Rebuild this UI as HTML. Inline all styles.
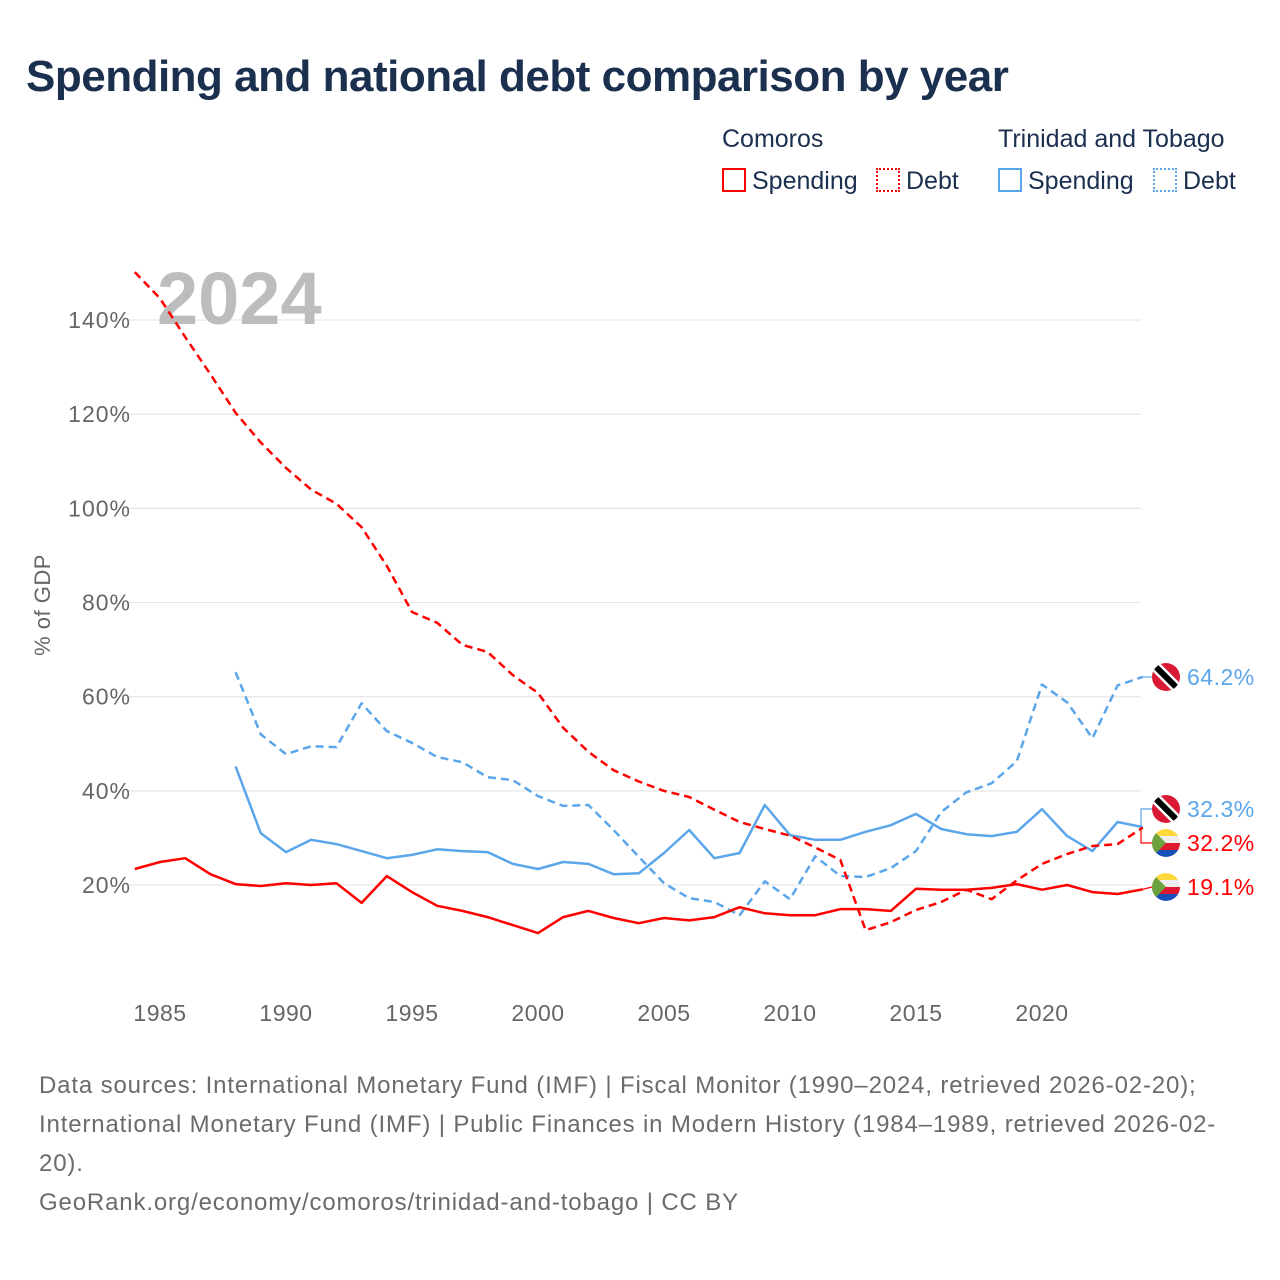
<!DOCTYPE html>
<html><head><meta charset="utf-8">
<style>
body{margin:0;background:#fff;font-family:"Liberation Sans",sans-serif;}
#wrap{position:relative;width:1280px;height:1280px;overflow:hidden;}
.t{position:absolute;white-space:nowrap;}
</style></head>
<body>
<div id="wrap">
<div class="t" style="left:26px;top:52px;font-size:44px;font-weight:bold;color:#1b2f4f;letter-spacing:-0.5px">Spending and national debt comparison by year</div>

<div class="t" style="left:722px;top:125px;font-size:25px;color:#1b2f4f">Comoros</div>
<div class="t" style="left:998px;top:125px;font-size:25px;color:#1b2f4f">Trinidad and Tobago</div>
<div class="t" style="left:722px;top:167px;font-size:25px;color:#1b2f4f"><span style="display:inline-block;width:20px;height:20px;border:2px solid #ff0000;vertical-align:-3px;margin-right:6px"></span>Spending</div>
<div class="t" style="left:876px;top:167px;font-size:25px;color:#1b2f4f"><span style="display:inline-block;width:20px;height:20px;border:2px dotted #ff0000;vertical-align:-3px;margin-right:6px"></span>Debt</div>
<div class="t" style="left:998px;top:167px;font-size:25px;color:#1b2f4f"><span style="display:inline-block;width:20px;height:20px;border:2px solid #5ba6ea;vertical-align:-3px;margin-right:6px"></span>Spending</div>
<div class="t" style="left:1153px;top:167px;font-size:25px;color:#1b2f4f"><span style="display:inline-block;width:20px;height:20px;border:2px dotted #5ba6ea;vertical-align:-3px;margin-right:6px"></span>Debt</div>

<svg id="chart" width="1280" height="1280" style="position:absolute;left:0;top:0"></svg>

<div class="t" style="left:39px;top:1066px;font-size:24px;line-height:39px;color:#6b6b6b;letter-spacing:0.85px">Data sources: International Monetary Fund (IMF) | Fiscal Monitor (1990–2024, retrieved 2026-02-20);<br>International Monetary Fund (IMF) | Public Finances in Modern History (1984–1989, retrieved 2026-02-<br>20).<br>GeoRank.org/economy/comoros/trinidad-and-tobago | CC BY</div>
</div>
<script>
const comorosYears = [1984,1985,1986,1987,1988,1989,1990,1991,1992,1993,1994,1995,1996,1997,1998,1999,2000,2001,2002,2003,2004,2005,2006,2007,2008,2009,2010,2011,2012,2013,2014,2015,2016,2017,2018,2019,2020,2021,2022,2023,2024];
const comorosDebt = [150.2,144.6,136.4,128.5,120.3,114,108.6,104,101,96,87.8,78,75.7,71,69.5,64.6,60.8,53.4,48.3,44.4,42,40,38.7,36,33.4,31.9,30.5,28,25.3,10.4,12.1,14.7,16.4,19,17,21,24.5,26.6,28.3,28.7,32.2];
const comorosSpending = [23.4,24.9,25.7,22.3,20.2,19.8,20.4,20,20.4,16.2,21.9,18.5,15.6,14.5,13.2,11.5,9.8,13.2,14.5,13,11.9,13,12.5,13.2,15.3,14,13.6,13.6,14.9,14.9,14.5,19.2,19,19,19.4,20.2,19,20,18.5,18.1,19.1];
const ttYears = [1988,1989,1990,1991,1992,1993,1994,1995,1996,1997,1998,1999,2000,2001,2002,2003,2004,2005,2006,2007,2008,2009,2010,2011,2012,2013,2014,2015,2016,2017,2018,2019,2020,2021,2022,2023,2024];
const ttDebt = [65.2,52,47.8,49.5,49.3,58.6,52.7,50.2,47.2,46.1,42.9,42.3,38.9,36.8,37,31.7,26,20.4,17.2,16.4,13.6,20.8,17,26.1,21.9,21.7,23.6,27.2,35.5,39.7,41.6,46.3,62.6,58.8,51.2,62.4,64.2];
const ttSpending = [45.2,31,27,29.6,28.7,27.2,25.7,26.4,27.6,27.2,27,24.5,23.4,24.9,24.5,22.3,22.5,26.8,31.7,25.7,26.8,37,30.6,29.6,29.6,31.3,32.7,35.1,31.9,30.8,30.4,31.3,36.1,30.4,27.2,33.4,32.3];
const yTicks = [20,40,60,80,100,120,140];
const xTicks = [1985,1990,1995,2000,2005,2010,2015,2020];

const NS="http://www.w3.org/2000/svg";
const svg=document.getElementById('chart');
function X(y){return 134.8+(y-1984)*25.2;}
function Y(v){return 979.2-v*4.708;}
function mk(t,a){const e=document.createElementNS(NS,t);for(const k in a)e.setAttribute(k,a[k]);svg.appendChild(e);return e;}

yTicks.forEach(v=>{
  const g=mk('line',{x1:128,x2:1141,y1:Y(v),y2:Y(v),stroke:'#e6e6e6','stroke-width':1.2});
  
  
  const t=mk('text',{x:131,y:Y(v)+8,'text-anchor':'end','font-size':23,'letter-spacing':1,fill:'#666','font-family':'Liberation Sans, sans-serif'});
  t.textContent=v+'%';
  
  
});
xTicks.forEach(y=>{
  const t=mk('text',{x:X(y),y:1021,'text-anchor':'middle','font-size':23,'letter-spacing':0.5,fill:'#666','font-family':'Liberation Sans, sans-serif'});
  t.textContent=y;
  
  
});
const yt=mk('text',{x:0,y:0,transform:'translate(50,605) rotate(-90)','text-anchor':'middle','font-size':22,'letter-spacing':0.5,fill:'#666','font-family':'Liberation Sans, sans-serif'});
yt.textContent='% of GDP';



const yr=mk('text',{x:157,y:324,'font-size':74,'font-weight':'bold',fill:'#bdbdbd','font-family':'Liberation Sans, sans-serif'});
yr.textContent='2024';



function line(xs,vs,color,dash,name){
  const d=xs.map((y,i)=>(i?'L':'M')+X(y).toFixed(1)+','+Y(vs[i]).toFixed(1)).join('');
  const p=mk('path',{d:d,fill:'none',stroke:color,'stroke-width':2.5,'stroke-dasharray':dash||'none','stroke-linejoin':'round'});
  
  
}
line(ttYears,ttSpending,'#5ba6ea',null,'tt-spending-line');
line(ttYears,ttDebt,'#5ba6ea','8,5','tt-debt-line');
line(comorosYears,comorosSpending,'#ff0000',null,'comoros-spending-line');
line(comorosYears,comorosDebt,'#ff0000','8,5','comoros-debt-line');

function flag(cx,cy,kind){
  const g=document.createElementNS(NS,'g');svg.appendChild(g);
  
  
  const id='c'+Math.round(cx)+Math.round(cy);
  g.innerHTML=`<clipPath id="${id}"><circle cx="${cx}" cy="${cy}" r="14"/></clipPath>`+
  (kind==='tt'?
   `<g clip-path="url(#${id})"><rect x="${cx-14}" y="${cy-14}" width="28" height="28" fill="#da1a35"/><line x1="${cx-14}" y1="${cy-14}" x2="${cx+14}" y2="${cy+14}" stroke="#fff" stroke-width="11"/><line x1="${cx-14}" y1="${cy-14}" x2="${cx+14}" y2="${cy+14}" stroke="#000" stroke-width="6"/></g>`:
   `<g clip-path="url(#${id})"><rect x="${cx-14}" y="${cy-14}" width="28" height="7" fill="#ffd83d"/><rect x="${cx-14}" y="${cy-7}" width="28" height="7" fill="#eee"/><rect x="${cx-14}" y="${cy}" width="28" height="7" fill="#e0182f"/><rect x="${cx-14}" y="${cy+7}" width="28" height="7" fill="#1650b8"/><path d="M${cx-14},${cy-14}L${cx},${cy}L${cx-14},${cy+14}Z" fill="#6ca33f"/></g>`);
}
function endLabel(ly,val,color,kind,name){
  flag(1166,ly,kind);
  const t=mk('text',{x:1187,y:ly+8,'font-size':23,'letter-spacing':0.5,fill:color,'font-family':'Liberation Sans, sans-serif'});
  t.textContent=val.toFixed(1)+'%';
  
  
}
const n1=ttDebt.length-1,n2=comorosDebt.length-1;
mk('line',{x1:X(2024),x2:1152,y1:Y(ttDebt[n1]),y2:677,stroke:'#5ba6ea','stroke-width':1.2});
mk('path',{d:`M${X(2024)},${Y(ttSpending[n1])}L1141,${Y(ttSpending[n1])}L1141,809L1152,809`,fill:'none',stroke:'#5ba6ea','stroke-width':1.2});
mk('path',{d:`M${X(2024)},${Y(comorosDebt[n2])}L1141,${Y(comorosDebt[n2])}L1141,843L1152,843`,fill:'none',stroke:'#ff0000','stroke-width':1.2});
mk('line',{x1:X(2024),x2:1152,y1:Y(comorosSpending[n2]),y2:887,stroke:'#ff0000','stroke-width':1.2});
endLabel(677,ttDebt[n1],'#5ba6ea','tt','tt-debt-end-label');
endLabel(809,ttSpending[n1],'#5ba6ea','tt','tt-spending-end-label');
endLabel(843,comorosDebt[n2],'#ff0000','km','comoros-debt-end-label');
endLabel(887,comorosSpending[n2],'#ff0000','km','comoros-spending-end-label');
</script>
</body></html>
